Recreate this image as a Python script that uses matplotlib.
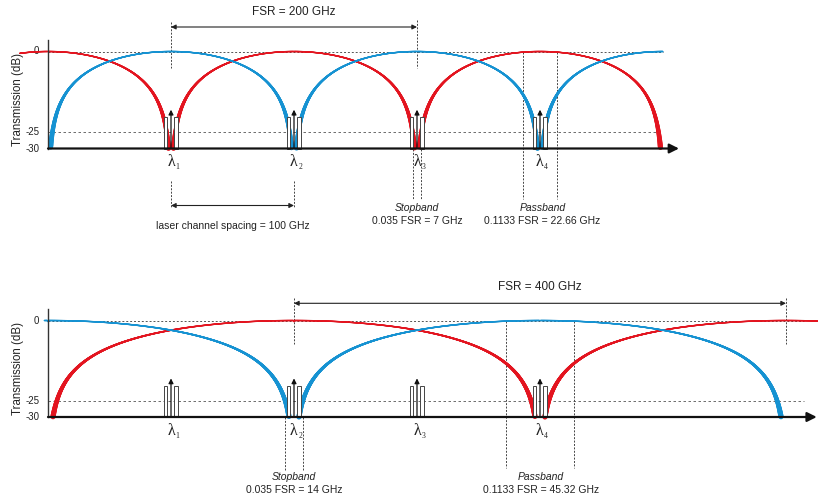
import numpy as np
import matplotlib
matplotlib.use("Agg")
import matplotlib.pyplot as plt
from matplotlib.collections import LineCollection
from matplotlib.patches import Rectangle

plt.rcParams['font.family'] = ['Liberation Sans', 'DejaVu Sans']

# ---- data -------------------------------------------------------------
channels = [100, 200, 300, 400]            # laser channels (GHz)
channel_labels = ['1', '2', '3', '4']
channel_spacing = 100                       # GHz
floor_db = -30
ytick_values = [0, -25, -30]

# panel 1: FSR = 200 GHz interleaver
fsr_top = 200
red_top_range = (-23, 500)
blue_top_range = (0, 500)
stop_top = (300, 7.0)       # centre, width (GHz)
pass_top = (400, 27.6)      # centre, drawn width (GHz)

# panel 2: FSR = 400 GHz interleaver
fsr_bot = 400
red_bot_range = (0, 626)
blue_bot_range = (-3, 600)
stop_bot = (200, 14.0)
pass_bot = (400, 56.0)

RED = '#E3141F'
BLUE = '#1592D2'
W, H = 818, 503
px_per_ghz = 1.23
x0_px = 48


def make_axes(fig, row0, row1, zero_row, floor_row):
    s = 30.0 / (floor_row - zero_row)
    ax = fig.add_axes([0, 1 - row1 / H, 1, (row1 - row0) / H])
    ax.set_xlim(-x0_px / px_per_ghz, (W - x0_px) / px_per_ghz)
    ax.set_ylim(-(row1 - zero_row) * s, (zero_row - row0) * s)
    ax.axis('off')
    ax.px = s  # dB per pixel
    return ax


def response(f, fsr, kind):
    ph = np.pi * f / fsr
    v = np.cos(ph) ** 2 if kind == 'cos' else np.sin(ph) ** 2
    db = 10 * np.log10(np.maximum(v, 1e-12))
    db[db < floor_db] = np.nan
    return db


def draw_curve(ax, frange, fsr, kind, color):
    f = np.linspace(frange[0], frange[1], 4000)
    db = response(f, fsr, kind)
    pts = np.column_stack([f, db])
    segs = np.stack([pts[:-1], pts[1:]], axis=1)
    ok = ~np.isnan(segs).any(axis=(1, 2))
    segs = segs[ok]
    depth = -0.5 * (segs[:, 0, 1] + segs[:, 1, 1]) / 30.0
    lw = 1.0 + 2.8 * depth ** 1.3
    ax.add_collection(LineCollection(segs, colors=color, linewidths=lw,
                                     capstyle='round', joinstyle='round',
                                     zorder=3))


def draw_frame(ax, x_end, grid_end, ylabel_y):
    ax.plot([0, 0], [floor_db, 3.5], color='#333333', lw=1.0, zorder=4)
    ax.annotate('', xy=(x_end, floor_db), xytext=(0, floor_db),
                arrowprops=dict(arrowstyle='-|>', color='#111111', lw=1.6,
                                mutation_scale=14, shrinkA=0, shrinkB=0),
                zorder=5)
    ax.plot([0, grid_end], [0, 0], color='#555555', lw=0.7,
            ls=(0, (2, 2)), zorder=2)
    ax.plot([0, grid_end], [-25, -25], color='#555555', lw=0.6,
            ls=(0, (3, 3)), zorder=2)
    for v in ytick_values:
        ax.text(-7, v, str(v), ha='right', va='center', fontsize=7,
                color='#222222')
    ax.text(-24, ylabel_y, 'Transmission (dB)', rotation=90, ha='center',
            va='center', fontsize=8.3, color='#222222')


def draw_channels(ax):
    ylab = floor_db - 14.0 * ax.px
    for c, lab in zip(channels, channel_labels):
        for lo in (c - 5.5, c + 2.8):
            ax.add_patch(Rectangle((lo, floor_db), 2.6, 9.6, fill=True,
                                   facecolor='white', edgecolor='#444444',
                                   lw=0.7, zorder=4))
        ax.annotate('', xy=(c, -18.0), xytext=(c, floor_db),
                    arrowprops=dict(arrowstyle='-|>', color='#111111',
                                    lw=0.9, mutation_scale=7,
                                    shrinkA=0, shrinkB=0), zorder=6)
        ax.text(c, ylab, 'λ', family='Liberation Serif', fontsize=11.5,
                ha='center', va='center', color='#222222')
        ax.annotate(lab, xy=(c, ylab), xytext=(4.5, -3.5),
                    textcoords='offset points', family='Liberation Serif',
                    fontsize=5.5, ha='center', va='center', color='#222222')


def vdash(ax, x, y0, y1):
    ax.plot([x, x], [y0, y1], color='#444444', lw=0.7, ls=(0, (2, 1.5)),
            zorder=2)


def harrow(ax, x0, x1, y):
    ax.annotate('', xy=(x1, y), xytext=(x0, y),
                arrowprops=dict(arrowstyle='<|-|>', color='#222222',
                                lw=0.8, mutation_scale=7,
                                shrinkA=0, shrinkB=0))


fig = plt.figure(figsize=(W / 100, H / 100), dpi=100)
fig.patch.set_facecolor('white')

# ---- top panel ------------------------------------------------------------
ax1 = make_axes(fig, 0, 251, 51.5, 148.5)
p = 1 / ax1.px  # pixels per dB
draw_frame(ax1, 513, 500, -15)
draw_curve(ax1, red_top_range, fsr_top, 'cos', RED)
draw_curve(ax1, blue_top_range, fsr_top, 'sin', BLUE)
draw_channels(ax1)

fsr_y = (51.5 - 27) / p
vdash(ax1, channels[0], (51.5 - 22) / p, (51.5 - 68) / p)
vdash(ax1, channels[0] + fsr_top, (51.5 - 20) / p, (51.5 - 68) / p)
harrow(ax1, channels[0], channels[0] + fsr_top, fsr_y)
ax1.text(channels[0] + fsr_top / 2, (51.5 - 12) / p, 'FSR = %d GHz' % fsr_top,
         ha='center', va='center', fontsize=8.5, color='#222222')

sp_y = (51.5 - 205.5) / p
vdash(ax1, channels[0], (51.5 - 181) / p, (51.5 - 208) / p)
vdash(ax1, channels[1], (51.5 - 181) / p, (51.5 - 208) / p)
harrow(ax1, channels[0], channels[1], sp_y)
ax1.text((channels[0] + channels[1]) / 2, (51.5 - 226) / p,
         'laser channel spacing = %d GHz' % channel_spacing,
         ha='center', va='center', fontsize=7.5, color='#222222')

sc, sw = stop_top
for x in (sc - sw / 2, sc + sw / 2):
    vdash(ax1, x, floor_db, (51.5 - 200) / p)
ax1.text(sc, (51.5 - 208) / p, 'Stopband', style='italic', ha='center',
         va='center', fontsize=7.5, color='#222222')
ax1.text(sc, (51.5 - 221) / p, '0.035 FSR = 7 GHz', ha='center',
         va='center', fontsize=7.5, color='#222222')

pc, pw = pass_top
for x in (pc - pw / 2, pc + pw / 2):
    vdash(ax1, x, 0, (51.5 - 199) / p)
ax1.text(pc + 2, (51.5 - 208) / p, 'Passband', style='italic', ha='center',
         va='center', fontsize=7.5, color='#222222')
ax1.text(pc + 2, (51.5 - 221) / p, '0.1133 FSR = 22.66 GHz', ha='center',
         va='center', fontsize=7.5, color='#222222')

# ---- bottom panel ---------------------------------------------------------
ax2 = make_axes(fig, 251, 503, 320.5, 417)
q = 1 / ax2.px
draw_frame(ax2, 625, 615, -15)
draw_curve(ax2, red_bot_range, fsr_bot, 'sin', RED)
draw_curve(ax2, blue_bot_range, fsr_bot, 'cos', BLUE)
draw_channels(ax2)

z = 320.5
fa, fb = channels[1], channels[1] + fsr_bot
vdash(ax2, fa, (z - 298) / q, (z - 344) / q)
vdash(ax2, fb, (z - 298) / q, (z - 344) / q)
harrow(ax2, fa, fb, (z - 303.3) / q)
ax2.text((fa + fb) / 2, (z - 287) / q, 'FSR = %d GHz' % fsr_bot,
         ha='center', va='center', fontsize=8.5, color='#222222')

sc, sw = stop_bot
for x in (sc - sw / 2, sc + sw / 2):
    vdash(ax2, x, floor_db, (z - 470) / q)
ax2.text(sc, (z - 477.5) / q, 'Stopband', style='italic', ha='center',
         va='center', fontsize=7.5, color='#222222')
ax2.text(sc, (z - 490) / q, '0.035 FSR = 14 GHz', ha='center',
         va='center', fontsize=7.5, color='#222222')

pc, pw = pass_bot
for x in (pc - pw / 2, pc + pw / 2):
    vdash(ax2, x, 0, (z - 468) / q)
ax2.text(pc + 1, (z - 477.5) / q, 'Passband', style='italic', ha='center',
         va='center', fontsize=7.5, color='#222222')
ax2.text(pc + 1, (z - 490) / q, '0.1133 FSR = 45.32 GHz', ha='center',
         va='center', fontsize=7.5, color='#222222')

fig.savefig('out.png', dpi=100, facecolor='white')
